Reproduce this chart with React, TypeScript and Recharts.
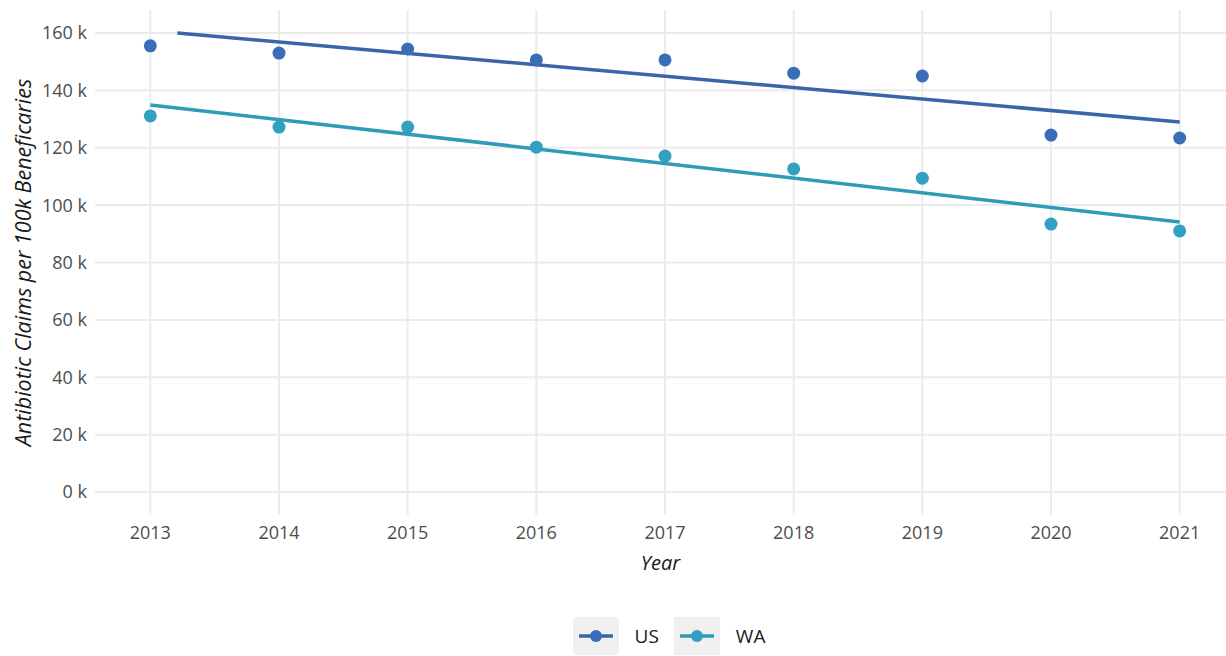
import React from 'react';
import { ComposedChart, Line, Scatter, XAxis, YAxis, CartesianGrid, Legend } from 'recharts';

const years = [2013, 2014, 2015, 2016, 2017, 2018, 2019, 2020, 2021];
const usClaims = [155.5, 153.0, 154.4, 150.6, 150.6, 146.0, 145.0, 124.4, 123.4];
const waClaims = [131.1, 127.2, 127.2, 120.2, 117.1, 112.6, 109.4, 93.4, 91.0];

// fitted trend lines (endpoints, US clipped at 160k)
const usTrendYears = [2013.21, 2021];
const usTrendValues = [160.0, 129.0];
const waTrendYears = [2013, 2021];
const waTrendValues = [134.9, 94.1];

const yTicks = [0, 20, 40, 60, 80, 100, 120, 140, 160];

const US_COLOR = '#3a6db8';
const US_LINE = '#3965a9';
const WA_COLOR = '#31a0c2';
const WA_LINE = '#2f9bb7';
const FONT = '"Open Sans", "Noto Sans", sans-serif';

const usPoints = years.map((year, i) => ({ year, value: usClaims[i] * 1000 }));
const waPoints = years.map((year, i) => ({ year, value: waClaims[i] * 1000 }));
const usTrend = usTrendYears.map((year, i) => ({ year, value: usTrendValues[i] * 1000 }));
const waTrend = waTrendYears.map((year, i) => ({ year, value: waTrendValues[i] * 1000 }));

const legendItems = [
  { name: 'US', color: US_COLOR, line: US_LINE },
  { name: 'WA', color: WA_COLOR, line: WA_LINE },
];

function renderLegend() {
  return (
    <div style={{ display: 'flex', justifyContent: 'center', alignItems: 'center', fontFamily: FONT }}>
      {legendItems.map((item, i) => (
        <div key={item.name} style={{ display: 'flex', alignItems: 'center', marginRight: i === 0 ? 15 : 0 }}>
          <svg width={46} height={38} style={{ background: '#f0f0f0', display: 'block' }}>
            <line x1={6} y1={19} x2={40} y2={19} stroke={item.line} strokeWidth={3.5} />
            <circle cx={23} cy={19} r={6} fill={item.color} />
          </svg>
          <span style={{ marginLeft: 16, fontSize: 19, color: '#1a1a1a' }}>{item.name}</span>
        </div>
      ))}
    </div>
  );
}

export default function App() {
  return (
    <div style={{ position: 'absolute', left: 0, top: 0, background: '#fff' }}>
      <ComposedChart width={1226} height={656} margin={{ top: 10, right: 0, left: 0, bottom: 63 }}>
        <CartesianGrid stroke="#ebebeb" strokeWidth={2} syncWithTicks />
        <XAxis
          type="number"
          dataKey="year"
          domain={[2012.57, 2021.36]}
          ticks={years}
          allowDataOverflow
          axisLine={false}
          tickLine={false}
          tickSize={0}
          tickMargin={11}
          tick={{ fill: '#4d4d4d', fontSize: 18, fontFamily: FONT }}
          label={{ value: 'Year', position: 'insideBottom', offset: -15, fill: '#1a1a1a', fontSize: 20, fontStyle: 'italic', fontFamily: FONT }}
          height={40}
        />
        <YAxis
          type="number"
          domain={[-8000, 168000]}
          ticks={yTicks.map((t) => t * 1000)}
          allowDataOverflow
          axisLine={false}
          tickLine={false}
          tickSize={0}
          tickMargin={8}
          width={95}
          tickFormatter={(v: number) => `${v / 1000} k`}
          tick={{ fill: '#4d4d4d', fontSize: 18, fontFamily: FONT }}
          label={{ value: 'Antibiotic Claims per 100k Beneficaries', angle: -90, position: 'insideLeft', offset: 23, style: { textAnchor: 'middle' }, fill: '#1a1a1a', fontSize: 21.5, fontStyle: 'italic', fontFamily: FONT }}
        />
        <Legend content={renderLegend} verticalAlign="bottom" wrapperStyle={{ left: 116, width: 1106, bottom: 1 }} />
        <Line data={usTrend} dataKey="value" name="US trend" stroke={US_LINE} strokeWidth={3.5} dot={false} isAnimationActive={false} legendType="none" />
        <Line data={waTrend} dataKey="value" name="WA trend" stroke={WA_LINE} strokeWidth={3.5} dot={false} isAnimationActive={false} legendType="none" />
        <Scatter data={usPoints} dataKey="value" name="US" fill={US_COLOR} shape={(p: any) => <circle cx={p.cx} cy={p.cy} r={6.5} fill={US_COLOR} />} isAnimationActive={false} />
        <Scatter data={waPoints} dataKey="value" name="WA" fill={WA_COLOR} shape={(p: any) => <circle cx={p.cx} cy={p.cy} r={6.5} fill={WA_COLOR} />} isAnimationActive={false} />
      </ComposedChart>
    </div>
  );
}
